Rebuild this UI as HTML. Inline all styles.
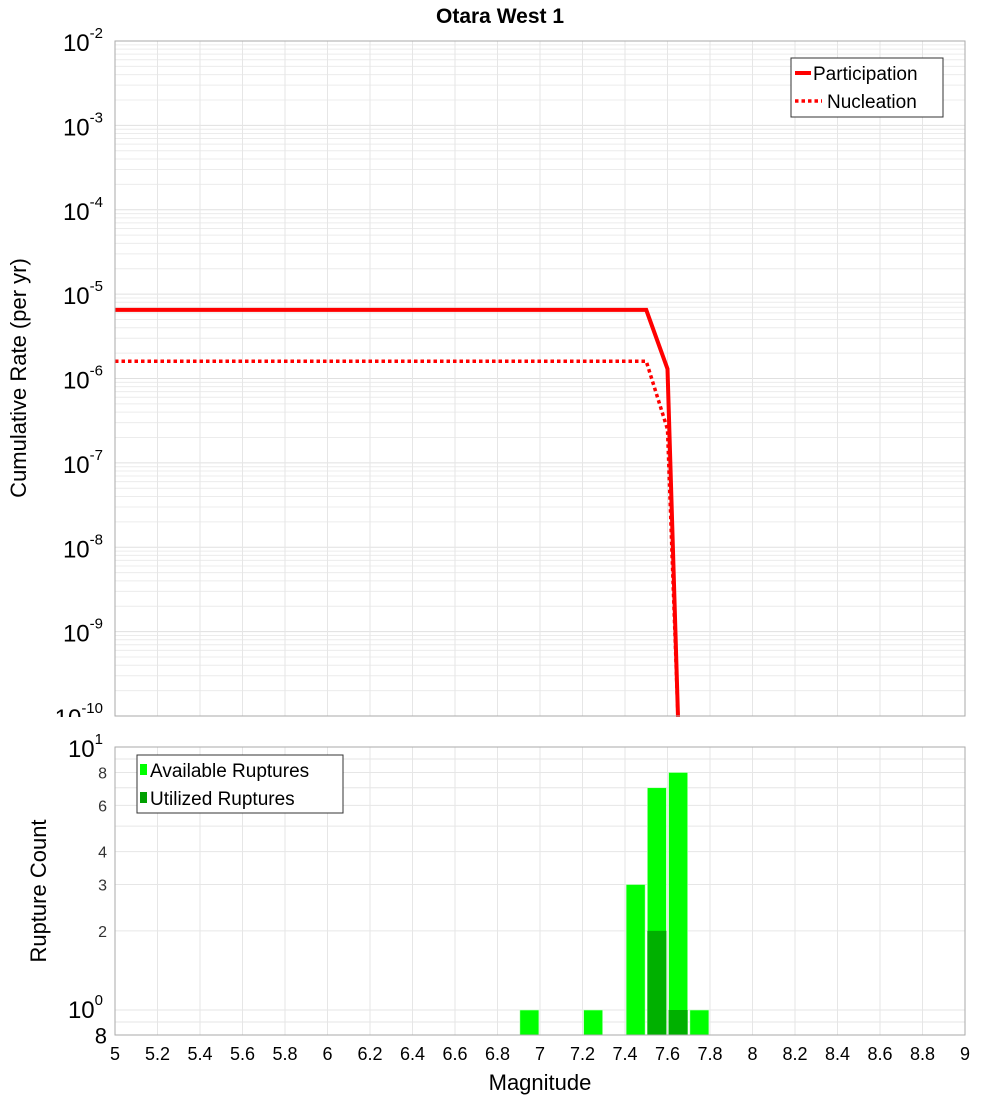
<!DOCTYPE html>
<html><head><meta charset="utf-8"><style>
body{margin:0;background:#fff;}
svg text{font-family:"Liberation Sans","DejaVu Sans",sans-serif;}
</style></head><body>
<svg id="c" width="1000" height="1100" xmlns="http://www.w3.org/2000/svg">
<text x="500" y="23" text-anchor="middle" font-size="21" font-weight="bold">Otara West 1</text>
<g id="topG"></g>
<g id="botG"></g>
<text transform="translate(26,378) rotate(-90)" text-anchor="middle" font-size="22">Cumulative Rate (per yr)</text>
<text transform="translate(46,891) rotate(-90)" text-anchor="middle" font-size="22">Rupture Count</text>
<text x="540" y="1090" text-anchor="middle" font-size="22">Magnitude</text>
</svg>
<script>
const partMags=[5,7.5,7.6,7.65];
const partRates=[6.5e-6,6.5e-6,1.3e-6,1e-12];
const nuclMags=[5,7.5,7.6,7.65];
const nuclRates=[1.6e-6,1.6e-6,2.5e-7,1e-12];
const binCenters=[6.95,7.25,7.45,7.55,7.65,7.75];
const availCounts=[1,1,3,7,8,1];
const utilCenters=[7.55,7.65];
const utilCounts=[2,1];
const xTicks=[5,5.2,5.4,5.6,5.8,6,6.2,6.4,6.6,6.8,7,7.2,7.4,7.6,7.8,8,8.2,8.4,8.6,8.8,9];
const topDecades=[-2,-3,-4,-5,-6,-7,-8,-9,-10];

const NS="http://www.w3.org/2000/svg";
const L=115,R=965,T1=41,B1=716,T2=747,B2=1035;
const xs=m=>L+(m-5)/4*(R-L);
const y1=v=>{let p=T1+(-2-Math.log10(v))*(B1-T1)/8;return Math.min(p,B1+5);};
const y2=v=>T2+(1-Math.log10(v))*263;
function mk(par,tag,at){const e=document.createElementNS(NS,tag);for(const k in at)e.setAttribute(k,at[k]);par.appendChild(e);return e;}
const topG=document.getElementById('topG'),botG=document.getElementById('botG');
for(let d=-10;d<-2;d++){for(let k=1;k<10;k++){const y=y1(k*Math.pow(10,d));
const g=mk(topG,'line',{x1:L,x2:R,y1:y,y2:y,stroke:k==1?'#e0e0e0':'#ececec','stroke-width':1});

}}
xTicks.forEach(tk=>{const g=mk(topG,'line',{x1:xs(tk),x2:xs(tk),y1:T1,y2:B1,stroke:'#e6e6e6'});


const g2=mk(botG,'line',{x1:xs(tk),x2:xs(tk),y1:T2,y2:B2,stroke:'#e6e6e6'});

});
[10,9,8,7,6,5,4,3,2,1,0.9].forEach(v=>{const g=mk(botG,'line',{x1:L,x2:R,y1:y2(v),y2:y2(v),stroke:'#e6e6e6'});

});
topDecades.forEach(d=>{const y=T1+(-2-d)*(B1-T1)/8;
const tt=mk(topG,'text',{x:103,y:y+10,'text-anchor':'end','font-size':24});


tt.innerHTML='10<tspan dy="-13" font-size="15">'+d+'</tspan>';});
function line(ms,rs,dash,name){const pts=ms.map((m,i)=>xs(m)+','+y1(rs[i])).join(' ');
const p=mk(topG,'polyline',{points:pts,fill:'none',stroke:'#ff0000','stroke-width':dash?3.5:4,'stroke-dasharray':dash?'3.5,3':'none'});

}
line(nuclMags,nuclRates,true,'nucleation-line');
line(partMags,partRates,false,'participation-line');
mk(topG,'rect',{x:L,y:T1,width:R-L,height:B1-T1,fill:'none',stroke:'#aaa'});
mk(topG,'rect',{x:0,y:B1+1,width:1000,height:T2-B1-12,fill:'#fff'});
const lg=mk(topG,'g',{});


mk(lg,'rect',{x:791,y:58,width:152,height:59,fill:'#fff',stroke:'#333'});
mk(lg,'line',{x1:795,x2:811,y1:73,y2:73,stroke:'#f00','stroke-width':4});
mk(lg,'line',{x1:795,x2:822,y1:101,y2:101,stroke:'#f00','stroke-width':3.5,'stroke-dasharray':'3.5,3'});
let tx=mk(lg,'text',{x:813,y:80,'font-size':19});tx.textContent='Participation';
tx=mk(lg,'text',{x:827,y:108,'font-size':19});tx.textContent='Nucleation';
const bw=19;
binCenters.forEach((m,i)=>{const r=mk(botG,'rect',{x:xs(m)-bw/2,y:y2(availCounts[i]),width:bw,height:B2-y2(availCounts[i]),fill:'#00ff00',stroke:'#c8ffc8','stroke-width':0.6});

});
utilCenters.forEach((m,i)=>{const r=mk(botG,'rect',{x:xs(m)-bw/2,y:y2(utilCounts[i]),width:bw,height:B2-y2(utilCounts[i]),fill:'#00b000'});

});
mk(botG,'rect',{x:L,y:T2,width:R-L,height:B2-T2,fill:'none',stroke:'#aaa'});
[8,6,4,3,2].forEach(v=>{const tt=mk(botG,'text',{x:107,y:y2(v)+6,'text-anchor':'end','font-size':16,fill:'#333'});tt.textContent=v;

});
tx=mk(botG,'text',{x:103,y:y2(10)+10,'text-anchor':'end','font-size':24});tx.innerHTML='10<tspan dy="-13" font-size="15">1</tspan>';
tx=mk(botG,'text',{x:103,y:y2(1)+8,'text-anchor':'end','font-size':24});tx.innerHTML='10<tspan dy="-13" font-size="15">0</tspan>';
tx=mk(botG,'text',{x:107,y:y2(0.8)+8,'text-anchor':'end','font-size':22});tx.textContent='8';
xTicks.forEach(v=>{const tt=mk(botG,'text',{x:xs(v),y:1060,'text-anchor':'middle','font-size':18});tt.textContent=String(v);

});
const bl=mk(botG,'g',{});


mk(bl,'rect',{x:137,y:755,width:206,height:58,fill:'#fff',stroke:'#333'});
mk(bl,'rect',{x:140,y:764,width:7,height:11,fill:'#00ff00'});
mk(bl,'rect',{x:140,y:792,width:7,height:11,fill:'#00a000'});
tx=mk(bl,'text',{x:150,y:777,'font-size':19});tx.textContent='Available Ruptures';
tx=mk(bl,'text',{x:150,y:805,'font-size':19});tx.textContent='Utilized Ruptures';
</script>
</body></html>
